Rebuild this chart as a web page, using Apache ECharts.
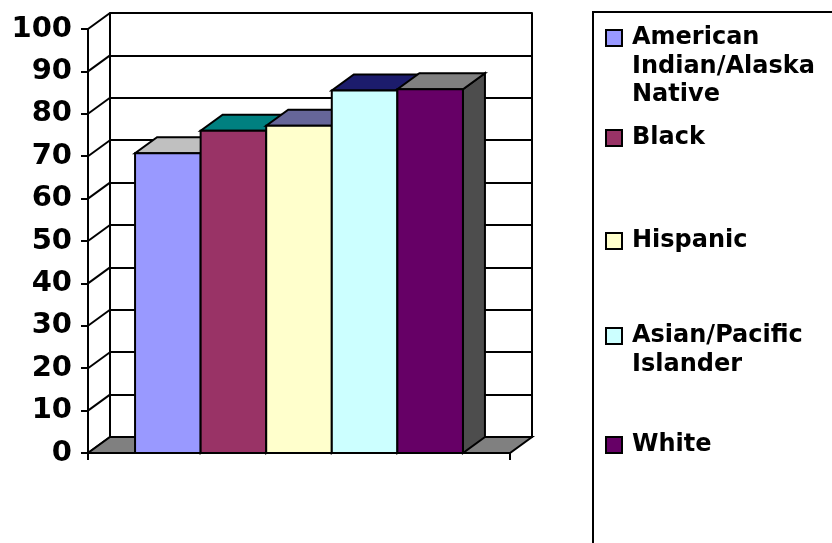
<!DOCTYPE html>
<html>
<head>
<meta charset="utf-8">
<script src="https://cdn.jsdelivr.net/npm/echarts@6/dist/echarts.min.js"></script>
<style>
  html, body { margin: 0; padding: 0; background: #fff; }
  #chart { width: 832px; height: 543px; }
</style>
</head>
<body>
<div id="chart"></div>
<script>
// data
const groups = ['American Indian/Alaska Native', 'Black', 'Hispanic', 'Asian/Pacific Islander', 'White'];
const legendLines = [['American', 'Indian/Alaska', 'Native'], ['Black'], ['Hispanic'], ['Asian/Pacific', 'Islander'], ['White']];
const values = [70.7, 76.0, 77.2, 85.5, 85.8];
const yTicks = [0, 10, 20, 30, 40, 50, 60, 70, 80, 90, 100];

// colours (front / top / side face)
const frontColors = ['#9999ff', '#993366', '#ffffcc', '#ccffff', '#660066'];
const topColors = ['#c0c0c0', '#008080', '#666699', '#1c1c6c', '#808080'];
const sideColors = ['#4d4d4d', '#4d4d4d', '#4d4d4d', '#4d4d4d', '#4d4d4d'];

// 3D depth offset and share of the band used by bars
const DX = 22, DY = -16;
const BAR_SPAN = 0.777;
const FONT = 'DejaVu Sans';
const LINE_H = 28.5;
const iconCenters = [38, 138, 241, 336, 445];

const chart = echarts.init(document.getElementById('chart'));
const edge = { stroke: '#000', lineWidth: 2, lineJoin: 'miter' };

function leftEdge(api, v) {
  const p = api.coord([0, v]);
  return [p[0] - api.size([1, 0])[0] / 2, p[1]];
}

// side wall: diagonals from front ticks to back wall
const sideWall = {
  type: 'custom',
  xAxisIndex: 0, yAxisIndex: 0,
  silent: true,
  data: yTicks.map(v => [0, v]),
  renderItem: function (params, api) {
    const p = leftEdge(api, api.value(1));
    return { type: 'line', shape: { x1: p[0], y1: p[1], x2: p[0] + DX, y2: p[1] + DY }, style: { stroke: '#000', lineWidth: 2 } };
  }
};

// floor
const floor = {
  type: 'custom',
  xAxisIndex: 0, yAxisIndex: 0,
  silent: true,
  data: [[0, 0]],
  renderItem: function (params, api) {
    const p = leftEdge(api, 0);
    const band = api.size([1, 0])[0];
    const xl = p[0], xr = p[0] + band, y = p[1];
    return {
      type: 'polygon',
      shape: { points: [[xl, y], [xr, y], [xr + DX, y + DY], [xl + DX, y + DY]] },
      style: Object.assign({ fill: '#808080' }, edge)
    };
  }
};

function barSeries(i) {
  return {
    type: 'custom',
    name: groups[i],
    xAxisIndex: 0, yAxisIndex: 0,
    itemStyle: { color: frontColors[i] },
    data: [[0, values[i]]],
    renderItem: function (params, api) {
      const band = api.size([1, 0])[0];
      const base = api.coord([0, 0]);
      const top = api.coord([0, api.value(1)]);
      const w = band * BAR_SPAN / groups.length;
      const L = base[0] - band * BAR_SPAN / 2 + i * w;
      const R = L + w, y0 = base[1], y1 = top[1];
      return {
        type: 'group',
        children: [
          { type: 'polygon', shape: { points: [[R, y1], [R + DX, y1 + DY], [R + DX, y0 + DY], [R, y0]] }, style: Object.assign({ fill: sideColors[i] }, edge) },
          { type: 'polygon', shape: { points: [[L, y1], [R, y1], [R + DX, y1 + DY], [L + DX, y1 + DY]] }, style: Object.assign({ fill: topColors[i] }, edge) },
          { type: 'rect', shape: { x: L, y: y1, width: w, height: y0 - y1 }, style: Object.assign({ fill: frontColors[i] }, edge) }
        ]
      };
    }
  };
}

// one legend per entry so that the spacing follows the picture;
// leading empty lines keep the icon level with the first line
const legends = groups.map((g, i) => {
  const lines = legendLines[i];
  const pad = lines.length - 1;
  const text = '\n'.repeat(pad) + lines.join('\n');
  const n = lines.length + pad;
  return {
    data: [g],
    left: 605,
    top: iconCenters[i] - n * LINE_H / 2,
    orient: 'vertical',
    padding: 0,
    selectedMode: false,
    icon: 'rect',
    itemWidth: 16,
    itemHeight: 16,
    itemStyle: { borderColor: '#000', borderWidth: 2 },
    formatter: () => text,
    textStyle: { fontFamily: FONT, fontWeight: 'bold', fontSize: 24, lineHeight: LINE_H, color: '#000', padding: [0, 0, 0, 5] }
  };
});

const blackLine = { color: '#000', width: 2 };

const option = {
  animation: false,
  backgroundColor: '#fff',
  grid: [
    { left: 88, top: 29, width: 422, height: 424 },
    { left: 110, top: 13, width: 422, height: 424 }
  ],
  xAxis: [
    {
      gridIndex: 0, type: 'category', data: [''],
      axisLine: { lineStyle: blackLine },
      axisTick: { show: true, length: 7, lineStyle: blackLine },
      axisLabel: { show: false },
      splitLine: { show: false }
    },
    { gridIndex: 1, type: 'value', min: 0, max: 1, show: false }
  ],
  yAxis: [
    {
      gridIndex: 0, type: 'value', min: 0, max: 100, interval: 10,
      axisLine: { show: true, onZero: false, lineStyle: blackLine },
      axisTick: { show: true, length: 7, lineStyle: blackLine },
      axisLabel: { fontFamily: FONT, fontWeight: 'bold', fontSize: 29, color: '#000', margin: 16 },
      splitLine: { show: false }
    },
    {
      gridIndex: 1, type: 'value', min: 0, max: 100, interval: 10,
      axisLine: { show: true, onZero: false, lineStyle: blackLine },
      axisTick: { show: false },
      axisLabel: { show: false },
      splitLine: { show: true, lineStyle: blackLine }
    },
    {
      gridIndex: 1, type: 'value', position: 'right', min: 0, max: 100, interval: 10,
      axisLine: { show: true, onZero: false, lineStyle: blackLine },
      axisTick: { show: false },
      axisLabel: { show: false },
      splitLine: { show: false }
    }
  ],
  legend: legends,
  graphic: [
    { type: 'rect', shape: { x: 593, y: 12, width: 300, height: 600 }, style: { fill: 'none', stroke: '#000', lineWidth: 2 }, silent: true }
  ],
  series: [sideWall, floor].concat(groups.map((g, i) => barSeries(i)))
};

chart.setOption(option);
</script>
</body>
</html>
